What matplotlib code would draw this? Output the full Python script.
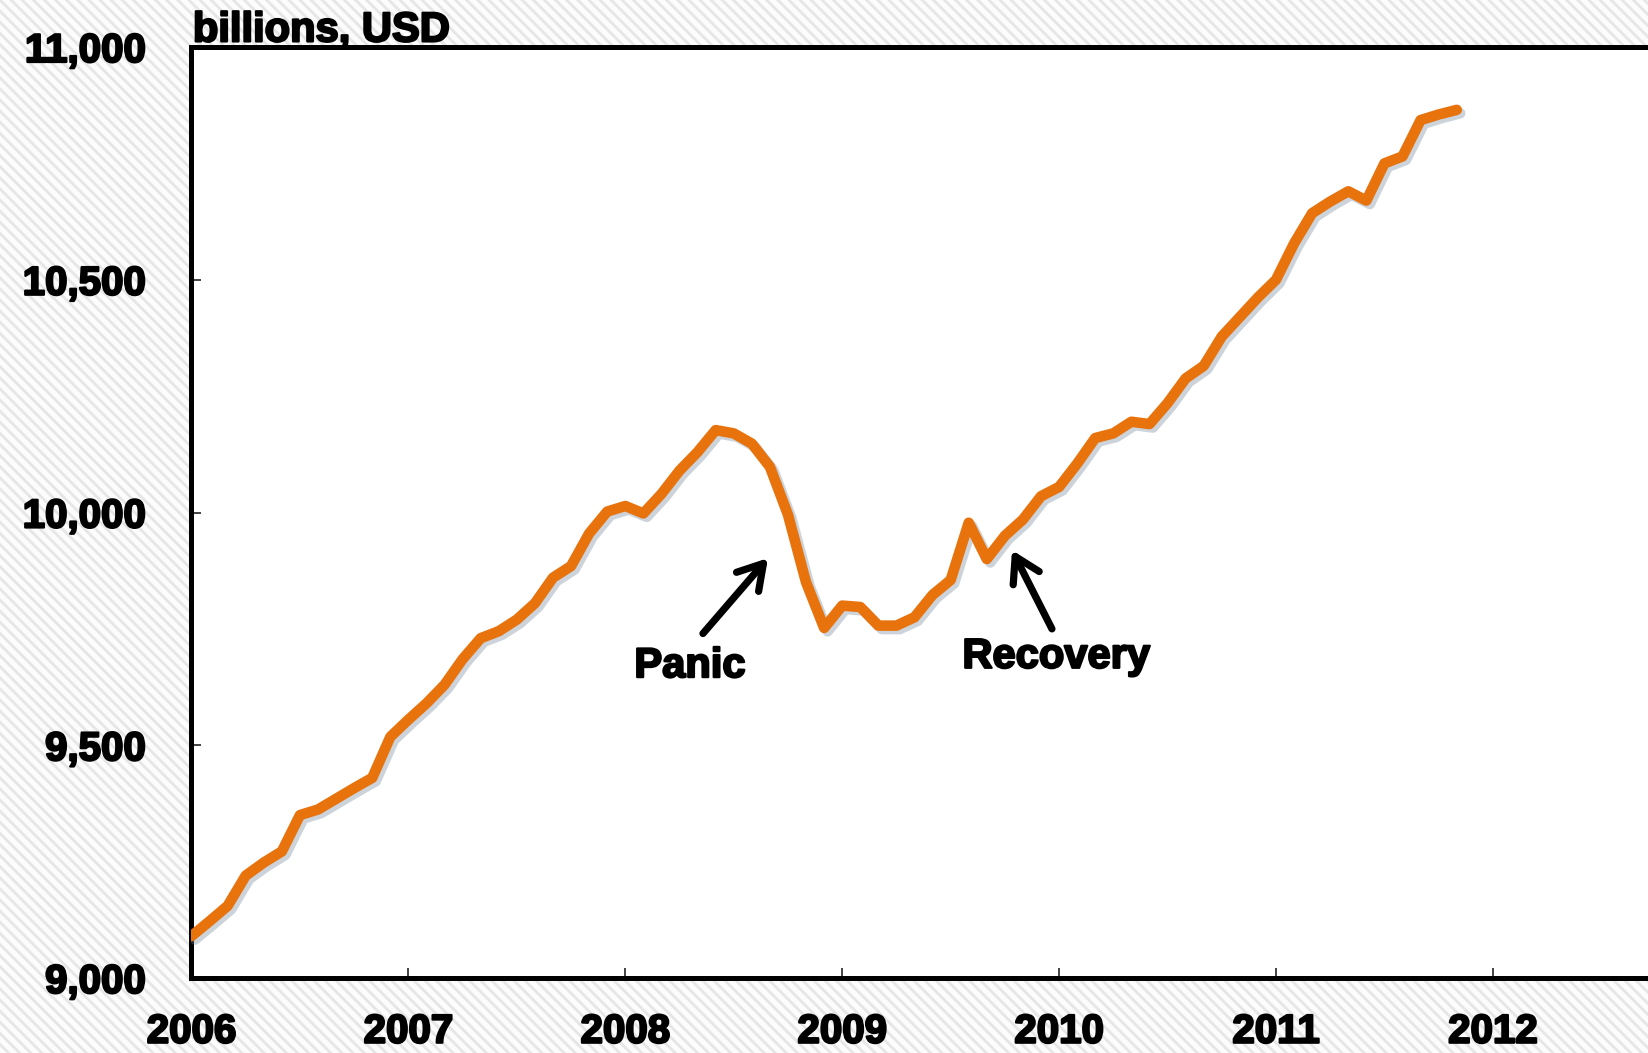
import matplotlib
matplotlib.use("Agg")
import matplotlib.pyplot as plt
import matplotlib.patheffects as pe
from matplotlib.patches import Rectangle
import numpy as np

# ---- data ----
start_year = 2006
# monthly values, Jan 2006 .. Nov 2011 (billions USD)
values = [
    9090, 9122, 9155, 9220, 9248, 9272, 9350, 9362, 9385, 9408, 9430, 9518,      # 2006
    9555, 9590, 9630, 9685, 9730, 9745, 9770, 9805, 9860, 9885, 9955, 10002,     # 2007
    10014, 9998, 10040, 10090, 10130, 10177, 10170, 10148, 10098, 9995, 9850, 9752,  # 2008
    9800, 9797, 9757, 9757, 9775, 9823, 9855, 9978, 9900, 9950, 9985, 10035,     # 2009
    10055, 10105, 10160, 10170, 10195, 10190, 10235, 10288, 10315, 10378, 10420, 10462,  # 2010
    10500, 10578, 10643, 10668, 10690, 10670, 10750, 10765, 10843, 10855, 10865,  # 2011
]
x_ticks = [2006, 2007, 2008, 2009, 2010, 2011, 2012]
x_tick_labels = ["2006", "2007", "2008", "2009", "2010", "2011", "2012"]
y_ticks = [9000, 9500, 10000, 10500, 11000]
y_tick_labels = ["9,000", "9,500", "10,000", "10,500", "11,000"]
unit_label = "billions, USD"
# label, arrow head (x, y), arrow tail (x, y), text centre (x, y)
annotation_labels = ["Panic", "Recovery"]
arrow_heads = [(2008.658, 9902), (2009.783, 9919)]
arrow_tails = [(2008.358, 9740), (2009.967, 9750)]
text_centres = [(2008.298, 9670), (2009.986, 9690)]

months = start_year + np.arange(len(values)) / 12.0

plt.rcParams["font.family"] = ["Liberation Sans", "DejaVu Sans"]
plt.rcParams["font.weight"] = "bold"
plt.rcParams["hatch.linewidth"] = 2.0

fig = plt.figure(figsize=(16.49, 10.53), dpi=100)
fig.patch.set_facecolor("#fcfcfc")
bg = Rectangle((0, 0), 1, 1, transform=fig.transFigure, facecolor="#fcfcfc",
               edgecolor="#e6e6e6", hatch="\\\\\\", linewidth=0, zorder=-10)
fig.patches.append(bg)

left = 191.5 / 1649
bottom = 1 - 978 / 1053
height = (978 - 47) / 1053
width = (1709.8 - 191.5) / 1649
ax = fig.add_axes([left, bottom, width, height])
ax.set_facecolor("white")

ax.plot(months, values, color="#E8720C", lw=7.6, solid_capstyle="round",
        solid_joinstyle="round", zorder=3,
        path_effects=[pe.SimpleLineShadow(offset=(2.5, -2.5), shadow_color="#6f8296", alpha=0.35),
                      pe.Normal()])

ax.set_xlim(2006, 2013)
ax.set_ylim(9000, 11000)
ax.set_xticks(x_ticks)
ax.set_xticklabels(x_tick_labels)
ax.set_yticks(y_ticks)
ax.set_yticklabels(y_tick_labels)

for s in ["left", "bottom", "top", "right"]:
    ax.spines[s].set_linewidth(3.6)
    ax.spines[s].set_color("black")

heavy = [pe.withStroke(linewidth=1.6, foreground="black")]

ax.tick_params(axis="both", direction="in", length=7, width=1.2, color="#222222",
               labelsize=29)
ax.tick_params(axis="x", pad=25)
ax.tick_params(axis="y", pad=33)
for lab in ax.get_xticklabels() + ax.get_yticklabels():
    lab.set_fontweight("bold")
    lab.set_path_effects(heavy)

ax.annotate(unit_label, xy=(0, 1), xycoords="axes fraction", xytext=(1, 4),
            textcoords="offset points", ha="left", va="baseline",
            fontsize=30, fontweight="bold", path_effects=heavy)

for txt, head, tail, tpos in zip(annotation_labels, arrow_heads, arrow_tails, text_centres):
    ax.annotate("", xy=head, xytext=tail,
                arrowprops=dict(arrowstyle="->,head_length=0.7,head_width=0.42",
                                mutation_scale=25, lw=5.2, color="black",
                                shrinkA=0, shrinkB=0))
    ax.text(tpos[0], tpos[1], txt, ha="center", va="center", fontsize=30,
            fontweight="bold", zorder=4, path_effects=heavy)

fig.savefig("out.png", dpi=100, facecolor=fig.get_facecolor())
